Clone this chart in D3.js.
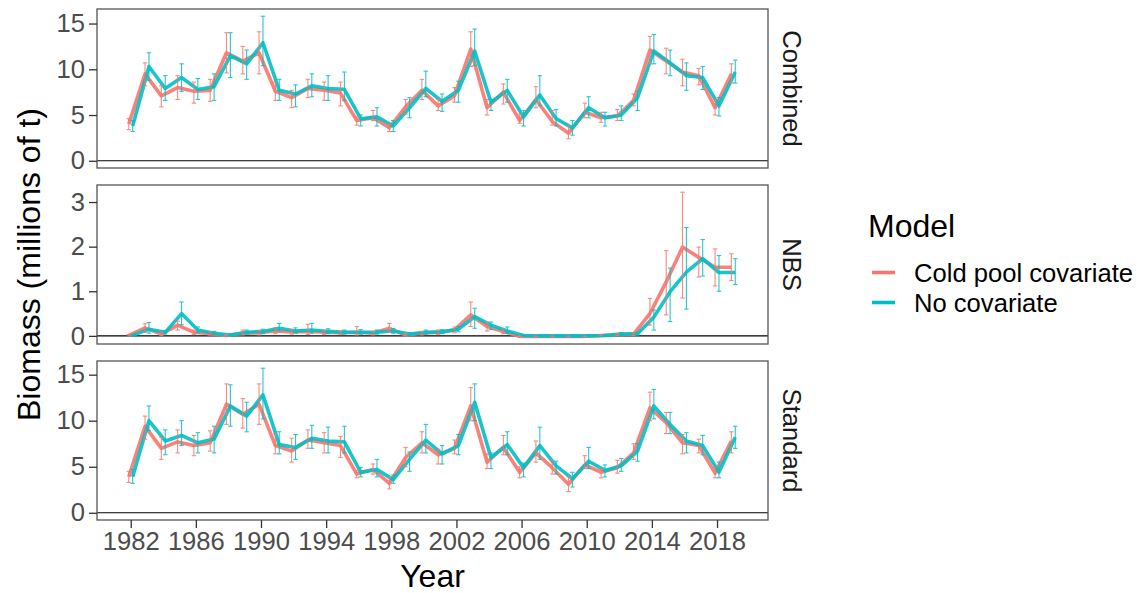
<!DOCTYPE html>
<html>
<head>
<meta charset="utf-8">
<script src="https://cdn.jsdelivr.net/npm/d3@7"></script>
<style>
  html, body { margin: 0; padding: 0; background: #fff; }
  svg { display: block; font-family: "Liberation Sans", Arial, sans-serif; }
</style>
</head>
<body>
<svg id="chart" width="1140" height="593"></svg>
<script>
// ---------------- data ----------------
const years = [1982,1983,1984,1985,1986,1987,1988,1989,1990,1991,1992,1993,1994,1995,1996,1997,1998,1999,2000,
               2001,2002,2003,2004,2005,2006,2007,2008,2009,2010,2011,2012,2013,2014,2015,2016,2017,2018,2019];
const facets = ["Combined", "NBS", "Standard"];
const models = ["Cold pool covariate", "No covariate"];
const xTicks = [1982,1986,1990,1994,1998,2002,2006,2010,2014,2018];
const combinedTicks = [0,5,10,15];
const nbsTicks = [0,1,2,3];
const standardTicks = [0,5,10,15];

// Combined – Cold pool covariate
const combinedColdEst = [4.0,9.5,7.1,8.0,7.6,7.7,11.8,10.9,11.8,7.6,6.9,7.9,7.7,7.4,4.4,4.7,3.6,5.9,7.7,6.0,7.1,12.2,5.8,7.5,4.4,6.7,4.3,3.0,5.3,4.7,4.9,6.6,12.1,10.9,9.7,9.3,5.8,9.5];
const combinedColdLo  = [3.4,8.2,5.9,6.7,6.3,6.5,9.6,9.5,9.5,6.6,5.8,6.9,6.6,6.0,3.9,4.4,3.2,5.1,6.7,5.5,6.4,10.3,5.0,6.2,4.1,5.8,3.9,2.4,4.7,4.2,4.4,6.0,10.6,9.5,8.2,8.3,5.0,8.5];
const combinedColdHi  = [4.6,10.7,8.2,9.3,8.6,8.9,14.0,12.5,14.1,8.6,7.7,8.9,8.6,8.6,4.8,5.5,4.0,6.7,8.9,6.7,8.0,14.1,6.7,8.4,5.1,8.1,5.5,3.8,6.3,5.3,5.6,7.3,13.6,12.3,11.1,10.1,6.7,10.6];
// Combined – No covariate
const combinedNoEst = [3.8,10.3,7.9,9.1,7.8,8.1,11.5,10.6,12.9,7.7,7.3,8.2,7.9,7.8,4.6,4.8,3.8,5.8,7.9,6.5,7.7,12.0,6.4,7.7,4.8,7.2,4.6,3.6,5.8,4.7,5.0,6.9,12.0,10.7,9.3,9.1,6.0,9.7];
const combinedNoLo  = [3.2,8.8,6.6,7.6,6.7,6.6,9.1,8.9,10.4,6.6,5.9,7.0,6.6,6.6,3.8,3.8,3.2,4.7,7.0,5.4,6.4,10.4,5.5,6.4,3.8,6.0,3.8,2.8,4.7,3.8,4.4,5.5,10.6,9.3,7.7,7.8,4.9,8.5];
const combinedNoHi  = [4.4,11.8,9.3,10.6,9.0,9.5,14.0,12.1,15.8,8.9,8.3,9.5,9.3,9.7,5.0,5.8,4.4,6.9,9.8,7.3,8.7,14.4,6.7,8.9,5.5,9.3,5.6,4.4,7.0,5.3,6.0,7.6,13.8,12.1,10.7,10.3,6.9,11.0];

// NBS – Cold pool covariate
const nbsColdEst = [0.01,0.18,0.04,0.24,0.08,0.05,0.01,0.06,0.07,0.11,0.09,0.10,0.08,0.07,0.08,0.06,0.17,0.02,0.06,0.08,0.13,0.47,0.21,0.10,-0.01,-0.01,-0.01,-0.01,-0.01,0.01,0.03,0.04,0.50,1.21,1.99,1.76,1.54,1.54];
const nbsColdLo  = [0.00,0.08,0.01,0.13,0.03,0.02,0.00,0.02,0.02,0.05,0.04,0.03,0.03,0.03,0.02,0.02,0.08,0.00,0.02,0.03,0.07,0.21,0.11,0.05,-0.02,-0.02,-0.02,-0.02,-0.02,0.00,0.01,0.01,0.24,0.47,0.85,1.32,1.12,1.24];
const nbsColdHi  = [0.03,0.27,0.08,0.33,0.13,0.09,0.03,0.13,0.12,0.18,0.14,0.26,0.13,0.11,0.21,0.10,0.28,0.05,0.10,0.13,0.20,0.76,0.31,0.15,0.00,0.00,0.00,0.00,0.00,0.02,0.05,0.07,0.84,1.91,3.22,1.99,1.95,1.84];
// NBS – No covariate
const nbsNoEst = [0.01,0.15,0.08,0.50,0.13,0.06,0.02,0.08,0.10,0.17,0.11,0.13,0.10,0.08,0.08,0.08,0.11,0.04,0.08,0.09,0.15,0.43,0.24,0.11,0.01,0.00,0.00,0.00,0.00,0.01,0.04,0.05,0.42,0.99,1.43,1.73,1.42,1.42];
const nbsNoLo  = [0.00,0.06,0.04,0.25,0.07,0.03,0.00,0.04,0.05,0.11,0.06,0.06,0.05,0.04,0.04,0.04,0.06,0.01,0.04,0.05,0.09,0.17,0.14,0.06,0.00,0.00,0.00,0.00,0.00,0.00,0.02,0.02,0.13,0.32,0.60,1.34,1.00,1.15];
const nbsNoHi  = [0.03,0.30,0.12,0.76,0.20,0.10,0.04,0.13,0.15,0.28,0.18,0.28,0.16,0.13,0.14,0.13,0.16,0.07,0.13,0.14,0.21,0.62,0.31,0.20,0.02,0.01,0.01,0.01,0.01,0.02,0.07,0.08,0.58,1.52,2.43,2.16,1.80,1.73];

// Standard – Cold pool covariate
const standardColdEst = [3.9,9.4,7.0,7.7,7.3,7.6,11.8,10.7,11.8,7.3,6.7,7.9,7.6,7.3,4.2,4.7,3.2,6.0,7.6,6.3,7.0,11.6,5.5,7.1,4.4,6.5,4.9,3.1,5.2,4.4,4.9,6.5,11.4,9.8,7.6,7.3,4.3,7.8];
const standardColdLo  = [3.3,8.0,5.8,6.5,6.2,6.7,9.6,9.2,9.6,6.4,5.5,7.0,6.5,6.0,3.8,4.2,2.6,5.0,6.5,5.3,6.4,10.0,4.8,6.3,3.8,5.5,4.2,2.3,4.8,3.8,4.3,5.8,10.0,8.6,6.4,6.5,3.8,6.5];
const standardColdHi  = [4.5,10.5,8.2,9.0,8.4,8.9,14.0,12.4,14.0,8.6,8.1,9.0,8.7,8.3,4.6,5.3,3.8,7.1,8.8,6.9,7.9,13.6,6.4,8.4,5.0,7.8,5.6,3.9,6.2,4.8,5.7,7.5,13.1,10.9,8.5,8.0,4.9,8.8];
// Standard – No covariate
const standardNoEst = [3.9,10.0,7.8,8.4,7.6,8.0,11.6,10.5,12.8,7.4,7.1,8.1,7.8,7.7,4.4,4.7,3.6,5.8,7.9,6.4,7.3,12.0,6.0,7.4,4.9,7.3,5.1,3.7,5.6,4.6,5.1,6.7,11.6,9.6,7.8,7.3,4.4,8.2];
const standardNoLo  = [3.2,8.9,6.3,7.3,6.5,6.5,9.4,8.8,10.2,6.4,5.8,7.0,6.5,6.5,3.9,3.9,3.2,4.5,6.5,5.3,6.3,10.0,4.8,6.3,3.9,5.8,4.2,2.8,4.8,3.9,4.5,5.6,10.2,8.6,6.5,6.3,3.8,7.0];
const standardNoHi  = [4.7,11.6,9.0,10.0,8.7,9.4,13.9,12.0,15.7,8.8,8.5,9.5,9.3,9.4,4.9,5.8,4.1,6.6,9.6,7.3,8.5,14.0,6.5,8.8,5.4,9.3,5.6,4.4,7.1,5.2,5.9,7.5,13.4,10.9,8.7,8.4,5.5,9.4];

// ---------------- build ----------------
const seriesByFacet = {
  "Combined": { ticks: combinedTicks, series: [
      {est: combinedColdEst, lo: combinedColdLo, hi: combinedColdHi},
      {est: combinedNoEst, lo: combinedNoLo, hi: combinedNoHi}] },
  "NBS": { ticks: nbsTicks, series: [
      {est: nbsColdEst, lo: nbsColdLo, hi: nbsColdHi},
      {est: nbsNoEst, lo: nbsNoLo, hi: nbsNoHi}] },
  "Standard": { ticks: standardTicks, series: [
      {est: standardColdEst, lo: standardColdLo, hi: standardColdHi},
      {est: standardNoEst, lo: standardNoLo, hi: standardNoHi}] }
};

const colors = d3.scaleOrdinal().domain(models).range(["#F8766D", "#00BFC4"]);
const dodge = d3.scaleOrdinal().domain(models).range([-0.12, 0.12]);

const svg = d3.select("#chart");
const panelLeft = 97, panelRight = 768;
const panelTops = [9, 185, 361];
const panelH = 159;

const x = d3.scaleLinear().domain([1979.93, 2021.13]).range([panelLeft, panelRight]);

const tickCol = "#4D4D4D";

facets.forEach((f, fi) => {
  const top = panelTops[fi], bottom = top + panelH;
  const info = seriesByFacet[f];
  let mn = 0, mx = 0;
  info.series.forEach(s => {
    mn = Math.min(mn, d3.min(s.lo), d3.min(s.est));
    mx = Math.max(mx, d3.max(s.hi), d3.max(s.est));
  });
  const pad = (mx - mn) * 0.05;
  const y = d3.scaleLinear().domain([mn - pad, mx + pad]).range([bottom, top]);

  const g = svg.append("g");

  // zero line
  g.append("line")
    .attr("x1", panelLeft).attr("x2", panelRight)
    .attr("y1", y(0)).attr("y2", y(0))
    .attr("stroke", "#000").attr("stroke-width", 1.2);

  // series
  info.series.forEach((s, si) => {
    const m = models[si];
    const col = colors(m);
    const pts = years.map((yr, i) => ({yr, est: s.est[i], lo: s.lo[i], hi: s.hi[i]}));
    const line = d3.line().x(d => x(d.yr + dodge(m))).y(d => y(d.est));
    g.append("path").datum(pts)
      .attr("d", line)
      .attr("fill", "none")
      .attr("stroke", col)
      .attr("stroke-width", 3.6)
      .attr("stroke-linejoin", "round")
      .attr("opacity", 0.9);
  });
  info.series.forEach((s, si) => {
    const m = models[si];
    const col = colors(m);
    const pts = years.map((yr, i) => ({yr, est: s.est[i], lo: s.lo[i], hi: s.hi[i]}));
    const eb = g.append("g").attr("stroke", col).attr("stroke-width", 1.1).attr("opacity", 0.85);
    pts.forEach(d => {
      const cx = x(d.yr + dodge(m));
      eb.append("line").attr("x1", cx).attr("x2", cx).attr("y1", y(d.lo)).attr("y2", y(d.hi));
      eb.append("line").attr("x1", cx - 2.2).attr("x2", cx + 2.2).attr("y1", y(d.lo)).attr("y2", y(d.lo));
      eb.append("line").attr("x1", cx - 2.2).attr("x2", cx + 2.2).attr("y1", y(d.hi)).attr("y2", y(d.hi));
    });
  });

  // panel border
  g.append("rect")
    .attr("x", panelLeft).attr("y", top)
    .attr("width", panelRight - panelLeft).attr("height", panelH)
    .attr("fill", "none").attr("stroke", "#555").attr("stroke-width", 1.3);

  // y axis
  const yAxis = d3.axisLeft(y).tickValues(info.ticks).tickSize(8).tickPadding(4).tickFormat(d3.format("d"));
  const ya = g.append("g").attr("transform", `translate(${panelLeft},0)`).call(yAxis);
  ya.select(".domain").remove();
  ya.selectAll(".tick line").attr("stroke", "#333").attr("stroke-width", 1.3);
  ya.selectAll(".tick text").attr("fill", tickCol).attr("font-size", "25.6px")
    .attr("font-family", "Liberation Sans, Arial, sans-serif");

  // strip label
  g.append("text")
    .attr("transform", `translate(783,${(top + bottom) / 2}) rotate(90)`)
    .attr("text-anchor", "middle")
    .attr("fill", "#1A1A1A")
    .attr("font-size", "25.6px")
    .text(f);

  if (fi === facets.length - 1) {
    const xAxis = d3.axisBottom(x).tickValues(xTicks).tickSize(8).tickPadding(4).tickFormat(d3.format("d"));
    const xa = g.append("g").attr("transform", `translate(0,${bottom})`).call(xAxis);
    xa.select(".domain").remove();
    xa.selectAll(".tick line").attr("stroke", "#333").attr("stroke-width", 1.3);
    xa.selectAll(".tick text").attr("fill", tickCol).attr("font-size", "25.6px")
      .attr("font-family", "Liberation Sans, Arial, sans-serif");
  }
});

// axis titles
svg.append("text")
  .attr("x", (panelLeft + panelRight) / 2).attr("y", 587)
  .attr("text-anchor", "middle").attr("font-size", "32px").attr("fill", "#000")
  .text("Year");
svg.append("text")
  .attr("transform", `translate(40,${(panelTops[0] + panelTops[2] + panelH) / 2}) rotate(-90)`)
  .attr("text-anchor", "middle").attr("font-size", "32px").attr("fill", "#000")
  .text("Biomass (millions of t)");

// legend
const leg = svg.append("g");
leg.append("text").attr("x", 868).attr("y", 237).attr("font-size", "32px").attr("fill", "#000").text("Model");
models.forEach((m, i) => {
  const ly = 272.5 + i * 30;
  leg.append("line").attr("x1", 872).attr("x2", 895).attr("y1", ly).attr("y2", ly)
    .attr("stroke", colors(m)).attr("stroke-width", 3.6);
  leg.append("text").attr("x", 914).attr("y", ly + 9.2).attr("font-size", "25.6px").attr("fill", "#000").text(m);
});
</script>
</body>
</html>
